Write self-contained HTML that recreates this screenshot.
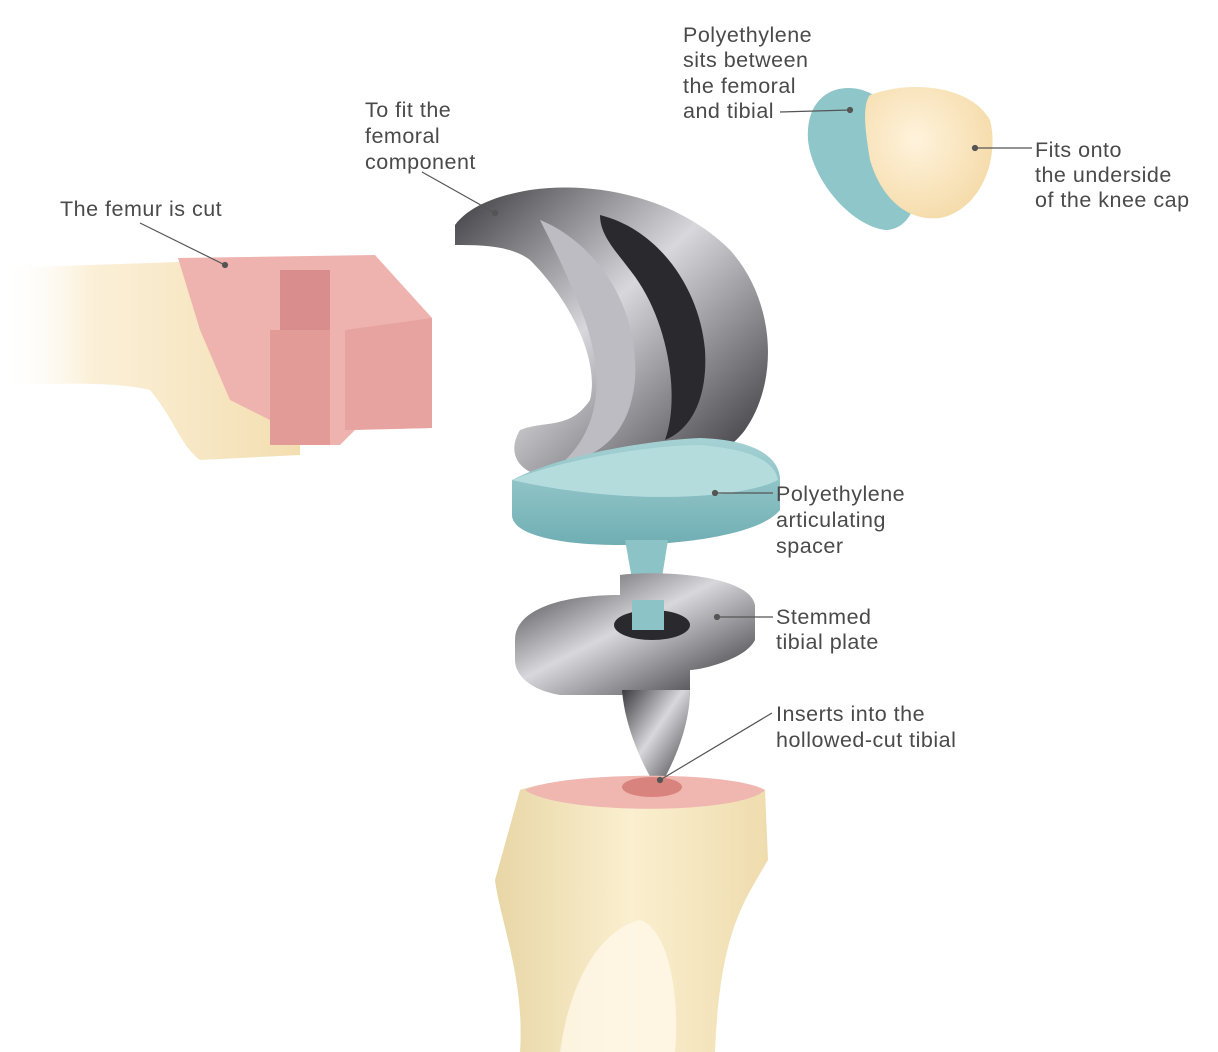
<!DOCTYPE html>
<html><head><meta charset="utf-8"><style>
html,body{margin:0;padding:0;background:#fff;}
svg{display:block}
text{font-family:"Liberation Sans",sans-serif;font-size:21.5px;letter-spacing:0.5px;fill:#4a4a4a;}
</style></head><body>
<svg width="1218" height="1052" viewBox="0 0 1218 1052">
<defs>
<linearGradient id="bone" x1="0" x2="1" y1="0" y2="0"><stop offset="0" stop-color="#fff" stop-opacity="0"/><stop offset="0.3" stop-color="#fbf0d8"/><stop offset="1" stop-color="#f3deb0"/></linearGradient>
<linearGradient id="metal" x1="0" x2="1" y1="0" y2="1"><stop offset="0" stop-color="#3a3a3e"/><stop offset="0.45" stop-color="#d8d8dc"/><stop offset="1" stop-color="#2c2c30"/></linearGradient>
<linearGradient id="teal" x1="0" x2="0" y1="0" y2="1"><stop offset="0" stop-color="#a6d2d4"/><stop offset="1" stop-color="#6faeb3"/></linearGradient>
<linearGradient id="tib" x1="0" x2="1"><stop offset="0" stop-color="#e8d6a6"/><stop offset="0.5" stop-color="#faefcf"/><stop offset="1" stop-color="#efdcae"/></linearGradient>
<radialGradient id="pat" cx="0.4" cy="0.4" r="0.7"><stop offset="0" stop-color="#fff3dc"/><stop offset="1" stop-color="#f4d9a5"/></radialGradient>
</defs>
<!-- femur -->
<path d="M0,268 L180,262 L300,268 L300,455 L200,460 C180,445 175,420 150,390 C110,380 40,385 0,385 Z" fill="url(#bone)"/>
<path d="M178,258 L375,255 L432,318 L432,428 L355,430 L340,445 L290,445 L270,445 L270,420 L230,400 L200,330 Z" fill="#eeb3ae"/>
<path d="M270,330 L330,330 L330,445 L270,445 Z" fill="#e39b98"/>
<path d="M345,330 L432,318 L432,428 L345,430 Z" fill="#e6a3a0"/>
<path d="M280,270 L330,270 L330,330 L280,330 Z" fill="#d98d8c"/>
<!-- femoral component -->
<path d="M455,225 C470,205 500,195 530,190 C600,180 680,200 730,250 C775,300 780,380 745,430 C715,470 650,480 620,470 L560,478 C520,478 505,455 520,430 C545,420 570,430 590,400 C600,360 570,300 530,260 C510,245 480,245 455,245 Z" fill="url(#metal)"/>
<path d="M600,215 C660,230 700,290 705,350 C708,400 690,430 665,440 C680,400 670,320 630,270 C615,250 600,235 600,215 Z" fill="#2a2a2e"/>
<path d="M540,220 C590,240 640,300 635,380 C630,430 605,455 560,465 C600,430 605,380 585,320 C570,280 555,250 540,220 Z" fill="#bcbcc2"/>
<!-- spacer -->
<path d="M512,480 C560,455 650,440 700,438 C760,440 780,460 780,480 L780,510 C760,535 680,545 620,545 C560,545 512,535 512,515 Z" fill="url(#teal)"/>
<path d="M512,480 C560,460 650,445 700,445 C760,450 775,465 778,480 C740,500 620,505 512,480 Z" fill="#b5dcdd"/>
<path d="M625,540 L668,540 L660,590 L662,630 L632,630 L634,590 Z" fill="#8cc3c6"/>
<!-- tibial plate -->
<path d="M515,640 C515,610 560,595 620,595 L620,575 C660,570 750,575 755,605 L755,640 C745,660 700,670 690,670 L690,695 L560,695 C530,690 515,675 515,660 Z" fill="url(#metal)"/>
<ellipse cx="652" cy="625" rx="38" ry="15" fill="#2a2a2e"/>
<rect x="632" y="600" width="32" height="30" fill="#8cc3c6"/>
<path d="M622,690 L690,690 C690,730 670,770 658,790 C645,770 625,730 622,690 Z" fill="url(#metal)"/>
<!-- tibia -->
<path d="M520,790 C560,775 720,770 765,790 L768,860 C745,900 720,930 715,1052 L520,1052 C525,980 500,920 495,880 Z" fill="url(#tib)"/>
<path d="M525,790 C560,772 730,770 765,790 C740,815 560,815 525,790 Z" fill="#f0b6b0"/>
<ellipse cx="652" cy="787" rx="30" ry="10" fill="#d9837f"/>
<path d="M560,1052 C570,980 600,930 640,920 C670,930 680,1000 675,1052 Z" fill="#fff8e8" opacity="0.8"/>
<!-- patella -->
<path d="M835,90 C870,80 900,110 915,150 C925,200 910,230 885,230 C850,225 812,180 808,140 C806,110 820,95 835,90 Z" fill="#8fc6c9"/>
<path d="M870,95 C910,80 970,85 990,120 C1000,160 980,210 940,218 C905,222 880,195 870,160 C865,130 862,105 870,95 Z" fill="url(#pat)"/>
<!-- leader lines -->
<g stroke="#555" stroke-width="1.2" fill="#555">
<line x1="140" y1="223" x2="225" y2="265"/><circle cx="225" cy="265" r="2.5"/>
<line x1="422" y1="172" x2="495" y2="213"/><circle cx="495" cy="213" r="2.5"/>
<line x1="780" y1="112" x2="850" y2="110"/><circle cx="850" cy="110" r="2.5"/>
<line x1="975" y1="148" x2="1032" y2="148"/><circle cx="975" cy="148" r="2.5"/>
<line x1="715" y1="493" x2="773" y2="493"/><circle cx="715" cy="493" r="2.5"/>
<line x1="717" y1="617" x2="773" y2="617"/><circle cx="717" cy="617" r="2.5"/>
<line x1="772" y1="713" x2="660" y2="780"/><circle cx="660" cy="780" r="2.5"/>
</g>
<text x="60" y="216">The femur is cut</text>
<text x="365" y="117">To fit the</text><text x="365" y="143">femoral</text><text x="365" y="169">component</text>
<text x="683" y="42">Polyethylene</text><text x="683" y="67">sits between</text><text x="683" y="93">the femoral</text><text x="683" y="118">and tibial</text>
<text x="1035" y="157">Fits onto</text><text x="1035" y="182">the underside</text><text x="1035" y="207">of the knee cap</text>
<text x="776" y="501">Polyethylene</text><text x="776" y="527">articulating</text><text x="776" y="553">spacer</text>
<text x="776" y="624">Stemmed</text><text x="776" y="649">tibial plate</text>
<text x="776" y="721">Inserts into the</text><text x="776" y="747">hollowed-cut tibial</text>
</svg>
</body></html>
